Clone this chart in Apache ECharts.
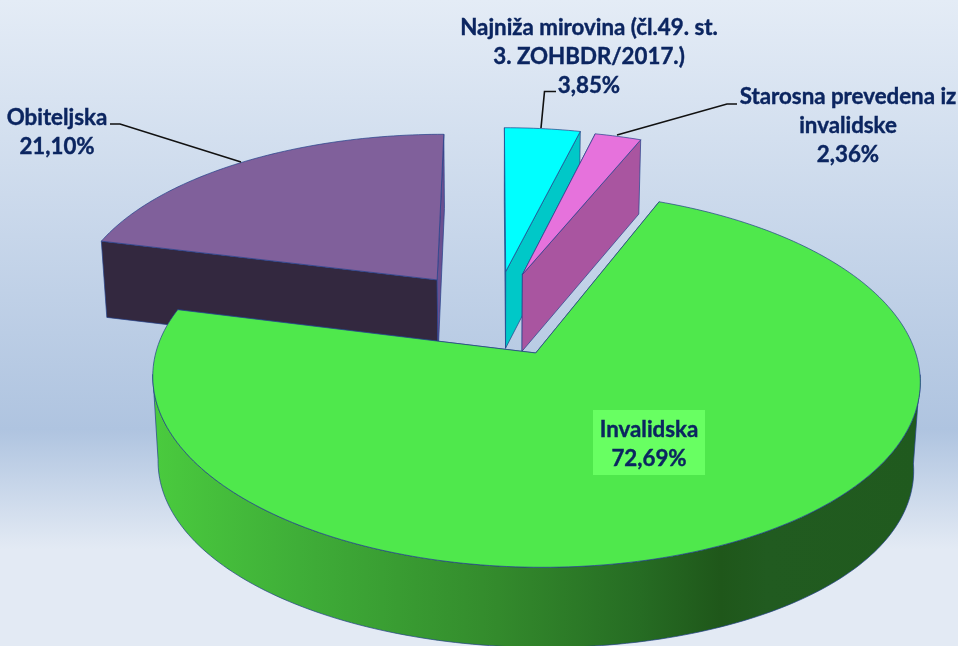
<!DOCTYPE html>
<html><head><meta charset="utf-8">
<style>html,body{margin:0;padding:0;background:#e3eaf4}#c{width:958px;height:646px}</style>
<script src="https://cdn.jsdelivr.net/npm/echarts@6/dist/echarts.min.js"></script>
</head><body><div id="c"></div>
<script>
// data, clockwise from 12 o'clock
const categories = ['Najniža mirovina (čl.49. st.\n3. ZOHBDR/2017.)', 'Starosna prevedena iz\ninvalidske', 'Invalidska', 'Obiteljska'];
const values = [3.85, 2.36, 72.69, 21.10];
const topColors = ['#00ffff', '#e672dc', '#4fe84c', '#80609b'];
const faceColors = ['#00c8c8', '#a955a0', '#215b20', '#33283f'];
const paintOrder = [2, 3, 4, 1];
const explode = [0.258, 0.25, 0.24, 0.26];

// projection constants
const CX = 494.6, CY = 314.6, RX = 369, RY = 174, K = 0.135, H = 78, LOWER = 0.015;
const LINE = '#24408a';
const FONT = 'Lato, Carlito, sans-serif';
const TEXT = '#0b2560';

const labelAnchors = [[589, 28], [848, 97], [649, 430], [57, 118]];
const LINE_H = 29;
const leaders = [
  [[541, 128], [544.5, 91.5], [556, 91.5]],
  [[617, 135], [727, 104], [737, 104]],
  [[110, 124], [120, 124], [241, 162]]
];

const total = values.reduce((a, b) => a + b, 0);
function project(u, v, z) {
  const s = 1 / (1 + K * v + (z ? LOWER : 0));
  let drop = 0;
  if (z) {
    const side = Math.min(1, Math.max(0, (0.2 - v) / 0.3));
    drop = H * Math.sqrt(s) + 9 * u * u * side;
  }
  return [CX + RX * u * s, CY - RY * v * s + drop];
}
function pctLabel(v) { return v.toFixed(2).replace('.', ',') + '%'; }

function renderSlice(params, api) {
  const i = params.dataIndex;
  let start = 0;
  for (let j = 0; j < i; j++) start += values[j] / total * 2 * Math.PI;
  const sweep = api.value(1) / total * 2 * Math.PI;
  const mid = start + sweep / 2;
  const ou = explode[i] * Math.sin(mid), ov = explode[i] * Math.cos(mid);
  const n = Math.ceil(sweep / 0.02);
  const arc = (z, frontOnly) => {
    const pts = [];
    for (let a = 0; a <= n; a++) {
      const t = start + sweep * a / n;
      if (!frontOnly || Math.cos(t) < -0.1) pts.push(project(ou + Math.sin(t), ov + Math.cos(t), z));
    }
    return pts;
  };
  const topArc = arc(0), lowArc = arc(1);
  const apexT = project(ou, ov, 0), apexL = project(ou, ov, 1);
  const z0 = paintOrder[i] * 10;
  const stroke = { stroke: LINE, lineWidth: 0.7 };
  const radial = (p, q, c, z) => ({
    type: 'polygon', z2: z,
    shape: { points: [apexT, p, q, apexL] },
    style: Object.assign({ fill: c }, stroke)
  });
  const children = [
    radial(topArc[0], lowArc[0], faceColors[i], z0),
    radial(topArc[topArc.length - 1], lowArc[lowArc.length - 1], i === 3 ? '#6a5090' : faceColors[i], z0 + 1)
  ];
  const ft = arc(0, true), fl = arc(1, true);
  if (ft.length) {
    children.push({
      type: 'polygon', z2: z0 + 2, shape: { points: ft.concat(fl.slice().reverse()) },
      style: Object.assign({
        fill: new echarts.graphic.LinearGradient(153, 0, 920, 0, [
          { offset: 0, color: '#4acb3e' }, { offset: 0.19, color: '#3fae38' },
          { offset: 0.45, color: '#338a2c' }, { offset: 0.635, color: '#266c23' },
          { offset: 0.74, color: '#1f571a' }, { offset: 0.8, color: '#215b20' },
          { offset: 1, color: '#205a1e' }], true)
      }, stroke)
    });
  }
  children.push({
    type: 'polygon', z2: z0 + 3, shape: { points: [apexT].concat(topArc) },
    style: Object.assign({ fill: topColors[i] }, stroke)
  });
  if (i === 2) {
    children.push({ type: 'rect', z2: 90, shape: { x: 593, y: 410, width: 112, height: 65 }, style: { fill: '#68ff62' } });
  }
  const [lx, ly] = labelAnchors[i];
  const lines = categories[i].split('\n').concat(pctLabel(values[i]));
  lines.forEach((t, k) => children.push({
    type: 'text', z2: 100,
    style: { text: t, x: lx, y: ly + k * LINE_H, fill: TEXT, stroke: TEXT, lineWidth: 0.4,
      align: 'center', verticalAlign: 'middle', font: 'bold 22.3px ' + FONT }
  }));
  return { type: 'group', children };
}

const chart = echarts.init(document.getElementById('c'), null, { renderer: 'canvas' });
chart.setOption({
  animation: false,
  backgroundColor: new echarts.graphic.LinearGradient(0, 0, 0, 646, [
    { offset: 0, color: '#e4ecf6' }, { offset: 0.665, color: '#afc4e0' },
    { offset: 0.85, color: '#e3eaf4' }, { offset: 1, color: '#e3eaf4' }], true),
  series: [
    { type: 'custom', coordinateSystem: 'none', renderItem: renderSlice, silent: true,
      data: values.map((v, i) => [i, v]) }
  ],
  graphic: leaders.map(pts => ({
    type: 'polyline', z: 50, silent: true, shape: { points: pts },
    style: { stroke: '#111', lineWidth: 1.6, fill: null }
  }))
});
</script></body></html>
